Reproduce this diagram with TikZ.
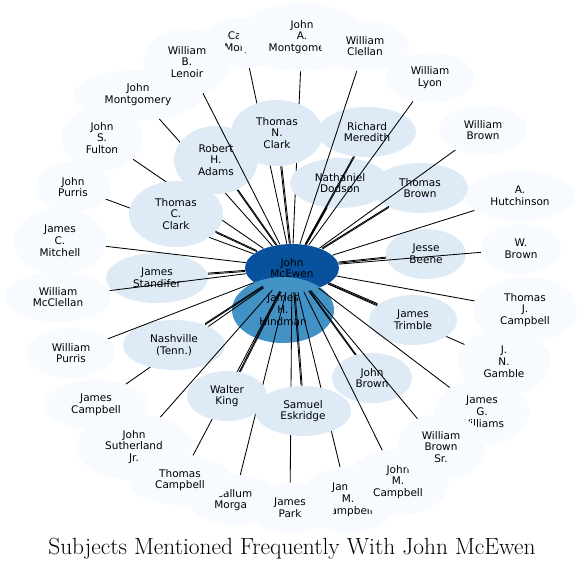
\documentclass[tikz,border=0pt]{standalone}
\usepackage{fontspec}
\newfontfamily\labelfont{DejaVu Sans}
\usetikzlibrary{shapes.geometric}

\definecolor{rootblue}{HTML}{08519C}
\definecolor{midblue}{HTML}{4292C6}
\definecolor{paleblue}{HTML}{DEEBF7}
\definecolor{faintblue}{HTML}{F7FBFF}

\begin{document}
\begin{tikzpicture}[x=1pt, y=-1pt, line width=0.85pt,
  person/.style={ellipse, inner sep=0pt, align=center, minimum width=88pt, minimum height=50pt,
    font=\labelfont\fontsize{10.5}{11.8}\selectfont},
  rare/.style={person, fill=faintblue},
  frequent/.style={person, fill=paleblue},
  tall/.style={minimum height=66pt}]
  \useasboundingbox (0,0) rectangle (584,570);

  \node[person, fill=rootblue, minimum width=94pt, minimum height=48pt] (mcewen) at (292,268) {John\\McEwen};
  \node[person, fill=midblue, minimum width=102pt, tall] (hindman) at (283,310) {James\\H.\\Hindman};

  \node[rare] (calvin) at (244,43) {Calvin\\Morgan};
  \node[rare, minimum width=128pt] (jmontgomery) at (138,95) {John\\Montgomery};
  \node[rare, tall] (lenoir) at (187,62) {William\\B.\\Lenoir};
  \node[rare, tall, minimum width=126pt, minimum height=68pt] (jamontgomery) at (302,37) {John\\A.\\Montgomery};
  \node[rare] (clellan) at (365,46) {William\\Clellan};
  \node[rare] (lyon) at (430,78) {William\\Lyon};
  \node[rare] (wbrown) at (483,130) {William\\Brown};
  \node[rare, minimum width=110pt] (hutchinson) at (520,196) {A.\\Hutchinson};
  \node[rare, minimum width=80pt] (wdbrown) at (521,249) {W.\\Brown};
  \node[rare, tall, minimum width=104pt] (tjcampbell) at (525,310) {Thomas\\J.\\Campbell};
  \node[rare, tall, minimum width=92pt] (gamble) at (504,362) {J.\\N.\\Gamble};
  \node[rare, tall, minimum width=94pt] (jgwilliams) at (482,412) {James\\G.\\Williams};
  \node[rare, tall, minimum width=96pt] (jamesmcampbell) at (348,500) {James\\M.\\Campbell};
  \node[rare, minimum width=90pt] (callum) at (234,500) {Callum\\Morgan};
  \node[rare] (jpark) at (290,508) {James\\Park};
  \node[rare, tall, minimum width=116pt] (sutherland) at (134,447) {John\\Sutherland\\Jr.};
  \node[rare, minimum width=104pt] (tcampbell) at (180,480) {Thomas\\Campbell};
  \node[rare, tall, minimum width=102pt] (johnmcampbell) at (398,482) {John\\M.\\Campbell};
  \node[rare, tall] (wbrownsr) at (441,447) {William\\Brown\\Sr.};
  \node[rare, minimum width=104pt] (jcampbell) at (96,405) {James\\Campbell};
  \node[rare] (wpurris) at (71,353) {William\\Purris};
  \node[rare, minimum width=106pt] (mcclellan) at (58,297) {William\\McClellan};
  \node[rare, tall, minimum width=92pt] (mitchell) at (60,241) {James\\C.\\Mitchell};
  \node[rare, minimum width=74pt] (jpurris) at (73,187) {John\\Purris};
  \node[rare, tall, minimum width=80pt] (fulton) at (102,138) {John\\S.\\Fulton};

  \foreach \n in {calvin, jamontgomery, jmontgomery, fulton, jpurris, jcampbell, tcampbell, callum, jpark, jamesmcampbell, gamble}
    \draw (mcewen) -- (\n);

  \node[frequent, tall, minimum width=84pt, minimum height=68pt] (radams) at (216,160) {Robert\\H.\\Adams};
  \node[frequent, tall, minimum width=92pt] (tnclark) at (277,133) {Thomas\\N.\\Clark};
  \node[frequent, minimum width=98pt] (meredith) at (367,132) {Richard\\Meredith};
  \node[frequent, minimum width=100pt] (dodson) at (340,183) {Nathaniel\\Dodson};
  \node[frequent, minimum width=96pt] (tbrown) at (420,188) {Thomas\\Brown};
  \node[frequent, tall, minimum width=94pt] (tcclark) at (176,214) {Thomas\\C.\\Clark};
  \node[frequent, minimum width=102pt] (standifer) at (157,278) {James\\Standifer};
  \node[frequent, minimum width=80pt] (beene) at (426,254) {Jesse\\Beene};
  \node[frequent] (trimble) at (413,320) {James\\Trimble};
  \node[frequent, minimum width=102pt] (nashville) at (174,345) {Nashville\\(Tenn.)};
  \node[frequent, minimum width=80pt] (jbrown) at (372,378) {John\\Brown};
  \node[frequent, minimum width=80pt] (wking) at (227,396) {Walter\\King};
  \node[frequent, minimum width=96pt] (eskridge) at (303,411) {Samuel\\Eskridge};

  \foreach \n in {lenoir, clellan, lyon, wbrown, hutchinson, wdbrown, tjcampbell, jgwilliams, wbrownsr, johnmcampbell, sutherland, wpurris, mcclellan, mitchell}
    \draw (mcewen) -- (\n);
  \foreach \n in {radams, tnclark, meredith, dodson, jbrown, wking, eskridge} {
    \draw (mcewen) -- (\n);
    \draw[transform canvas={xshift=1.1pt}] (mcewen) -- (\n);
  }
  \foreach \n in {tbrown, tcclark, standifer, beene, trimble, nashville} {
    \draw (mcewen) -- (\n);
    \draw[transform canvas={yshift=1.1pt}] (mcewen) -- (\n);
  }

  \node[font=\fontsize{23.4}{28}\selectfont] (title) at (292,549) {Subjects Mentioned Frequently With John McEwen};
\end{tikzpicture}
\end{document}
